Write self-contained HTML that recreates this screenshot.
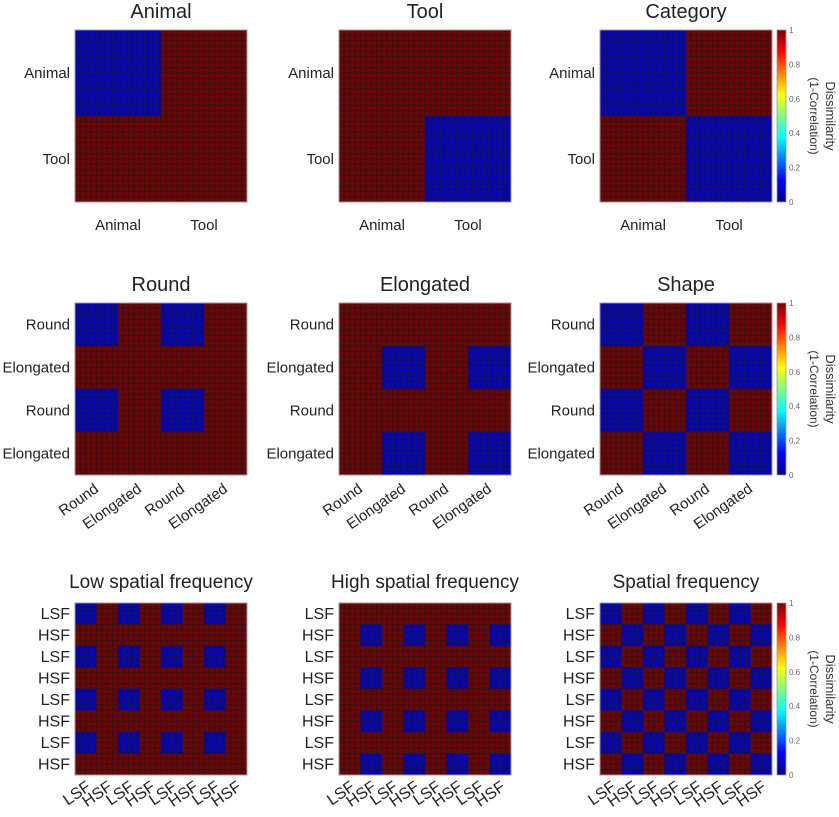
<!DOCTYPE html>
<html><head><meta charset="utf-8"><style>
html,body{margin:0;padding:0;background:#fff;}
svg{display:block;font-family:"Liberation Sans",Arial,sans-serif;}
</style></head><body>
<svg id="fig" width="839" height="817" viewBox="0 0 839 817">
<defs>
<linearGradient id="jet" x1="0" y1="1" x2="0" y2="0">
<stop offset="0" stop-color="#00008f"/><stop offset="0.125" stop-color="#0000ff"/><stop offset="0.375" stop-color="#00ffff"/><stop offset="0.625" stop-color="#ffff00"/><stop offset="0.875" stop-color="#ff0000"/><stop offset="1" stop-color="#800000"/>
</linearGradient>
</defs>
</svg>
<script>
// item attributes (32 stimuli)
const itemCategory = [0,0,0,0,0,0,0,0,0,0,0,0,0,0,0,0,1,1,1,1,1,1,1,1,1,1,1,1,1,1,1,1]; // 0 animal, 1 tool
const itemShape = [0,0,0,0,0,0,0,0,1,1,1,1,1,1,1,1,0,0,0,0,0,0,0,0,1,1,1,1,1,1,1,1]; // 0 round, 1 elongated
const itemSF = [0,0,0,0,1,1,1,1,0,0,0,0,1,1,1,1,0,0,0,0,1,1,1,1,0,0,0,0,1,1,1,1]; // 0 LSF, 1 HSF
const panelTitles = ["Animal","Tool","Category","Round","Elongated","Shape","Low spatial frequency","High spatial frequency","Spatial frequency"];
const panelAttr = ["cat","cat","cat","shape","shape","shape","sf","sf","sf"];
const panelRule = ["both0","both1","same","both0","both1","same","both0","both1","same"]; // which pairs are similar (0)
const catLabels = ["Animal","Tool"];
const shapeLabels = ["Round","Elongated","Round","Elongated"];
const sfLabels = ["LSF","HSF","LSF","HSF","LSF","HSF","LSF","HSF"];
const cbTicks = [0,0.2,0.4,0.6,0.8,1];

const NS="http://www.w3.org/2000/svg";
const svg=document.getElementById('fig');
const colX=[75,339,600], rowY=[30,303,603], S=172, N=32;
const attrs={cat:itemCategory,shape:itemShape,sf:itemSF};
const labelSets={cat:catLabels,shape:shapeLabels,sf:sfLabels};
function mk(t,a,p){const e=document.createElementNS(NS,t);for(const k in a)e.setAttribute(k,a[k]);(p||svg).appendChild(e);return e;}
function jet(v){return v<0.5?"#0000d0":"#780000";}
function dissim(rule,a,b){
  if(rule==="both0")return (a===0&&b===0)?0:1;
  if(rule==="both1")return (a===1&&b===1)?0:1;
  return a===b?0:1;}

panelTitles.forEach((title,p)=>{
  const r=Math.floor(p/3),c=p%3,x0=colX[c],y0=rowY[r];
  const g=mk('g',{});
  
  
  const at=attrs[panelAttr[p]], cs=S/N;
  for(let i=0;i<N;i++)for(let j=0;j<N;j++){
    const v=dissim(panelRule[p],at[i],at[j]);
    const cell=mk('rect',{x:x0+j*cs,y:y0+i*cs,width:cs,height:cs,fill:jet(v),stroke:"#1c1c1c","stroke-width":0.9},g);
    
    
  }
  const bd=mk('rect',{x:x0,y:y0,width:S,height:S,fill:"none",stroke:"#999","stroke-width":1},g);
  
  
  const t=mk('text',{x:x0+S/2,y:y0-(r===2?15:12),"text-anchor":"middle","font-size":r===2?19:20,fill:"#222"},g);
  t.textContent=title;
  
  
  const labs=labelSets[panelAttr[p]], step=S/labs.length;
  labs.forEach((L,k)=>{
    const cy=y0+step*(k+0.5);
    const yl=mk('text',{x:x0-5,y:cy+5,"text-anchor":"end","font-size":r===2?16:15,fill:"#222"},g);
    yl.textContent=L;
    
    
    const cx=x0+step*(k+0.5);
    let xl;
    if(r===0){xl=mk('text',{x:cx,y:y0+S+28,"text-anchor":"middle","font-size":15,fill:"#222"},g);}
    else{const ty=y0+S+(r===1?16:14);const tx=cx+(r===1?3:6);
      xl=mk('text',{x:tx,y:ty,"text-anchor":"end","font-size":r===1?15:16,fill:"#222",transform:`rotate(-35 ${tx} ${ty})`},g);}
    xl.textContent=L;
    
    
  });
  if(c===2){
    const cbx=777,cbw=9;
    const cb=mk('rect',{x:cbx,y:y0,width:cbw,height:S,fill:"url(#jet)",stroke:"#999","stroke-width":0.8},g);
    
    
    cbTicks.forEach(tv=>{
      const ty=y0+S-tv*S;
      const tl=mk('text',{x:cbx+cbw+3,y:ty+3,"font-size":8,fill:"#666"},g);
      tl.textContent=String(tv);
      
      
    });
    const a=mk('text',{x:826,y:y0+S/2,"text-anchor":"middle","font-size":13,fill:"#333",transform:`rotate(90 826 ${y0+S/2})`},g);
    a.textContent="Dissimilarity";
    
    
    const b=mk('text',{x:810,y:y0+S/2,"text-anchor":"middle","font-size":12,fill:"#333",transform:`rotate(90 810 ${y0+S/2})`},g);
    b.textContent="(1-Correlation)";
    
    
  }
});
</script>
</body></html>
